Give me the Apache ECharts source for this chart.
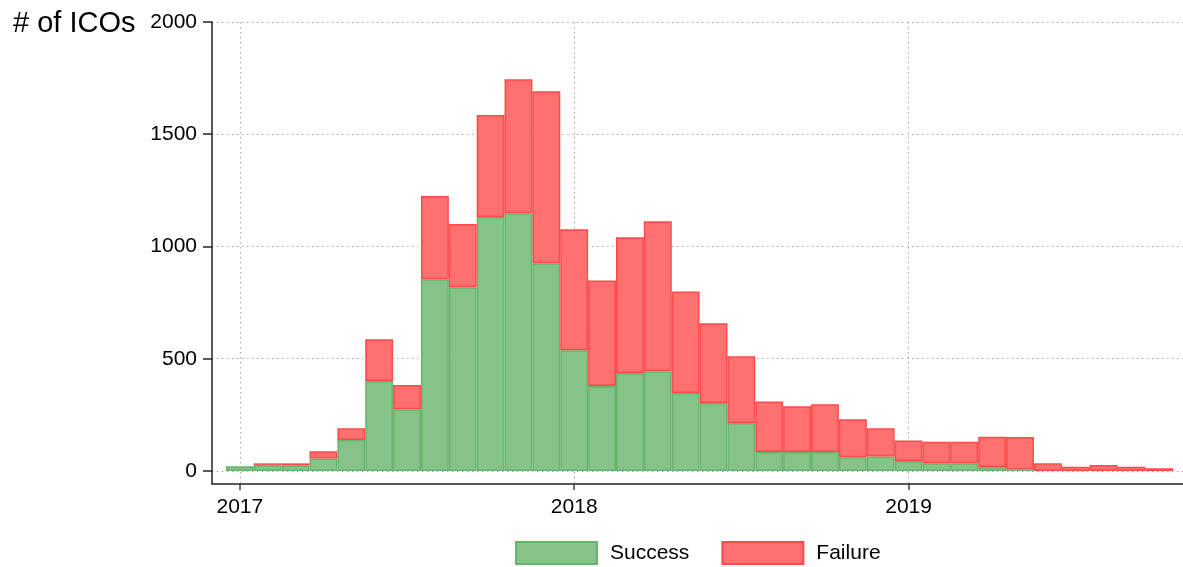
<!DOCTYPE html>
<html>
<head>
<meta charset="utf-8">
<title># of ICOs</title>
<script src="https://cdn.jsdelivr.net/npm/echarts@6/dist/echarts.min.js"></script>
<style>
  html, body { margin: 0; padding: 0; background: #fff; }
  #chart { width: 1183px; height: 567px; }
</style>
</head>
<body>
<div id="chart"></div>
<script>
// month offset from Jan 2017 for each histogram bin (bin centres)
const binMonths = [0, 1, 2, 3, 4, 5, 6, 7, 8, 9, 10, 11, 12, 13, 14, 15, 16,
  17, 18, 19, 20, 21, 22, 23, 24, 25, 26, 27, 28, 29, 30, 31, 32, 33]

const successCounts = [21, 27, 24, 56, 138, 401, 275, 854, 818, 1131, 1148, 925,
  538, 378, 436, 444, 347, 303, 214, 85, 85, 85, 61, 65, 45, 34, 34, 18, 7,
  0, 0, 0, 0, 0]

const failureCounts = [0, 7, 10, 32, 52, 186, 108, 371, 282, 455, 597, 766,
  539, 471, 605, 668, 453, 355, 297, 225, 203, 212, 169, 125, 91, 96, 96, 135, 144,
  34, 19, 27, 19, 12]

const yearTicks = [0, 12, 24]
const yearLabels = ['2017', '2018', '2019']
const countTicks = [0, 500, 1000, 1500, 2000]

const FONT = '"Liberation Sans", Arial, Helvetica, sans-serif'
const gridDots = { color: '#a8a8a8', width: 1, type: [1.5, 3.5] }

// value first so the stack runs on the count dimension (encode maps it to y)
// empty bins get no rect at all (otherwise the border draws a line)
const toPoints = (vals) => binMonths.map((m, i) => [vals[i] > 0 ? vals[i] : null, m])

const chart = echarts.init(document.getElementById('chart'), null, { renderer: 'canvas' })

chart.setOption({
  backgroundColor: '#fff',
  animation: false,
  title: {
    text: '# of ICOs',
    left: 8,
    top: 4,
    textStyle: { fontFamily: FONT, fontSize: 29, fontWeight: 'normal', color: '#000' },
  },
  legend: {
    data: ['Success', 'Failure'],
    left: 515,
    top: 541,
    padding: 0,
    itemWidth: 81,
    itemHeight: 22,
    itemGap: 32,
    icon: 'rect',
    textStyle: { fontFamily: FONT, fontSize: 21, color: '#000', padding: [0, 0, 0, 8] },
  },
  grid: {
    left: 212,
    right: 0,
    top: 22,
    bottom: 83,
  },
  xAxis: {
    type: 'value',
    min: -1,
    max: 33.85,
    axisLine: { show: true, onZero: false, lineStyle: { color: '#222', width: 1.5 } },
    axisTick: { show: true, length: 6, customValues: yearTicks, lineStyle: { color: '#444', width: 1.5 } },
    axisLabel: {
      customValues: yearTicks,
      margin: 13,
      fontFamily: FONT,
      fontSize: 21,
      color: '#000',
      formatter: (v) => yearLabels[yearTicks.indexOf(v)] || '',
    },
    splitLine: { show: true, lineStyle: gridDots },
  },
  yAxis: {
    type: 'value',
    min: -58,
    max: 2000,
    axisLine: { show: true, onZero: false, lineStyle: { color: '#222', width: 1.5 } },
    axisTick: { show: true, length: 9, customValues: countTicks, lineStyle: { color: '#222', width: 1.5 } },
    axisLabel: {
      customValues: countTicks,
      margin: 15,
      fontFamily: FONT,
      fontSize: 21,
      color: '#000',
      formatter: (v) => String(v),
    },
    splitLine: { show: true, lineStyle: gridDots },
  },
  series: [
    {
      name: 'Success',
      type: 'bar',
      stack: 'ico',
      barWidth: '100%',
      encode: { x: 1, y: 0 },
      data: toPoints(successCounts),
      itemStyle: { color: '#85c388', borderColor: '#66b56a', borderWidth: 1.5 },
    },
    {
      name: 'Failure',
      type: 'bar',
      stack: 'ico',
      barWidth: '100%',
      encode: { x: 1, y: 0 },
      data: toPoints(failureCounts),
      itemStyle: { color: '#ff7070', borderColor: '#ff4a4a', borderWidth: 1.5 },
    },
  ],
})
</script>
</body>
</html>
